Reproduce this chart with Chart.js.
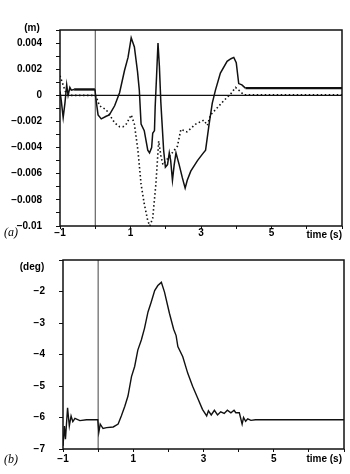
<!DOCTYPE html>
<html>
<head>
<meta charset="utf-8">
<script src="https://cdn.jsdelivr.net/npm/chart.js@4.4.0/dist/chart.umd.min.js"></script>
<style>
  body { margin: 0; background: #fff; width: 350px; height: 474px; position: relative; overflow: hidden; }
  .panel { position: absolute; left: 0; width: 350px; }
  #wrapA { top: 0; height: 244px; }
  #wrapB { top: 244px; height: 230px; }
</style>
</head>
<body>
<div class="panel" id="wrapA"><canvas id="chartA"></canvas></div>
<div class="panel" id="wrapB"><canvas id="chartB"></canvas></div>
<script>
// (a) displacement (m) - solid trace
const aSolidTime = [-1, -0.96, -0.91, -0.86, -0.81, -0.77, -0.72, -0.68, -0.6, -0.3, -0.01, 0.03, 0.08, 0.17, 0.31, 0.4,
  0.55, 0.69, 0.83, 0.93, 1.02, 1.11, 1.2, 1.25, 1.30, 1.39, 1.49, 1.54, 1.60, 1.63, 1.68, 1.70, 1.74, 1.78, 1.82,
  1.86, 1.89, 1.94, 1.99, 2.05, 2.10, 2.14, 2.19, 2.24, 2.29, 2.38, 2.47, 2.55, 2.61, 2.71, 2.90, 3.04, 3.13, 3.23,
  3.32, 3.41, 3.55, 3.74, 3.85, 3.93, 4.0, 4.07, 4.16, 4.26, 7];
const aSolidValue = [0.0003, -0.0005, -0.0017, -0.0006, 0.0008, 0.0, 0.0006, 0.0004, 0.00045, 0.00045, 0.00045, -0.0005,
  -0.0015, -0.0018, -0.0016, -0.0015, -0.0008, 0.0002, 0.0019, 0.0029, 0.0044, 0.0037, 0.0018, 0.0004, -0.0022,
  -0.0027, -0.0042, -0.0044, -0.0040, -0.0029, -0.0027, -0.0009, 0.0015, 0.0040, 0.0022, -0.0005, -0.0019, -0.0042,
  -0.0055, -0.0053, -0.0044, -0.0050, -0.0065, -0.0053, -0.0044, -0.0053, -0.0063, -0.0071, -0.0065, -0.0058,
  -0.0050, -0.0045, -0.0042, -0.0022, -0.0006, 0.0004, 0.0017, 0.0026, 0.0028, 0.0029, 0.0025, 0.0009, 0.0008,
  0.00055, 0.00055];

// (a) dotted trace
const aDotTime = [-1, -0.95, -0.85, -0.75, -0.01, 0.04, 0.12, 0.31, 0.55, 0.69, 0.79, 0.88, 1.02, 1.11, 1.21, 1.30,
  1.39, 1.49, 1.55, 1.63, 1.72, 1.80, 1.86, 1.92, 2.0, 2.1, 2.24, 2.33, 2.43, 2.6, 2.85, 3.08, 3.18, 3.27, 3.41,
  3.65, 3.84, 3.98, 4.07, 4.21, 7];
const aDotValue = [0.0015, 0.0011, 0.0003, 0.0, 0.0, -0.0002, -0.0008, -0.0011, -0.0021, -0.0024, -0.0024, -0.0022,
  -0.0015, -0.0022, -0.0042, -0.0068, -0.0083, -0.0096, -0.0100, -0.0094, -0.0068, -0.0035, -0.0046, -0.0053,
  -0.0050, -0.0047, -0.0042, -0.0039, -0.0026, -0.0028, -0.0022, -0.0019, -0.0023, -0.0015, -0.0011, -0.0004,
  0.0001, 0.0006, 0.0004, 0.00005, 0.00005];

// (b) angle (deg)
const bTime = [-1, -0.96, -0.93, -0.87, -0.82, -0.77, -0.72, -0.66, -0.52, -0.33, -0.01, 0.02, 0.06, 0.14, 0.24, 0.43,
  0.57, 0.66, 0.76, 0.85, 0.95, 1.04, 1.13, 1.23, 1.32, 1.42, 1.51, 1.61, 1.70, 1.80, 1.89, 2.03, 2.15, 2.22, 2.27,
  2.41, 2.55, 2.69, 2.83, 2.97, 3.09, 3.14, 3.22, 3.31, 3.40, 3.49, 3.59, 3.68, 3.78, 3.87, 3.92, 4.02, 4.10, 4.14,
  4.20, 4.26, 4.35, 4.48, 7];
const bAngle = [-6.9, -6.27, -6.69, -5.69, -6.27, -5.95, -6.13, -6.03, -6.1, -6.07, -6.07, -6.47, -6.21, -6.35, -6.32,
  -6.3, -6.21, -5.95, -5.64, -5.32, -4.7, -4.38, -3.86, -3.54, -3.17, -2.65, -2.34, -1.97, -1.81, -1.71, -2.02,
  -2.69, -3.2, -3.4, -3.75, -4.07, -4.59, -5.01, -5.37, -5.74, -5.95, -5.79, -5.92, -5.77, -5.92, -5.82, -5.87,
  -5.77, -5.85, -5.77, -5.85, -5.85, -6.21, -6.0, -6.12, -6.04, -6.09, -6.07, -6.07];

const timeLabels = [-1, 1, 3, 5];
const markerTime = 0;
// settled stretches of the solid trace look heavier (beaded) in the original
const settledBefore = -0.6;
const settledAfter = 4.26;

const pts = (xs, ys) => xs.map((x, i) => ({ x, y: ys[i] }));

Chart.defaults.font.family = "'Liberation Sans', Arial, sans-serif";
Chart.defaults.font.size = 10;
Chart.defaults.font.weight = 'bold';
Chart.defaults.color = '#000';

// frame, t=0 marker, zero line and the loose labels
const framePlugin = {
  id: 'frame',
  beforeDatasetsDraw(chart, args, opts) {
    const { ctx, chartArea: a, scales } = chart;
    ctx.save();
    ctx.strokeStyle = '#444';
    ctx.lineWidth = 1;
    const mx = scales.x.getPixelForValue(markerTime);
    ctx.beginPath();
    ctx.moveTo(mx, a.top);
    ctx.lineTo(mx, a.bottom);
    ctx.stroke();
    if (opts.zeroLine) {
      const zy = scales.y.getPixelForValue(0);
      ctx.strokeStyle = '#111';
      ctx.lineWidth = 1.2;
      ctx.beginPath();
      ctx.moveTo(a.left, zy);
      ctx.lineTo(a.right, zy);
      ctx.stroke();
    }
    ctx.restore();
  },
  afterDraw(chart, args, opts) {
    const { ctx, chartArea: a } = chart;
    ctx.save();
    ctx.strokeStyle = '#111';
    ctx.lineWidth = 1.5;
    ctx.strokeRect(a.left, a.top, a.right - a.left, a.bottom - a.top);
    ctx.fillStyle = '#000';
    ctx.textBaseline = 'middle';
    ctx.font = "bold 10px 'Liberation Sans', Arial, sans-serif";
    ctx.textAlign = 'center';
    ctx.fillText(opts.unit, opts.unitX, opts.unitY);
    ctx.textAlign = 'right';
    ctx.fillText('time (s)', 342, opts.timeY);
    ctx.textAlign = 'left';
    ctx.font = "italic 12px 'Liberation Serif', serif";
    ctx.fillText(opts.tag, 4, opts.tagY);
    ctx.restore();
  }
};

function xScale(tickPad, height) {
  return {
    type: 'linear', min: -1, max: 7,
    grid: { drawOnChartArea: false, drawTicks: true, tickLength: 3, color: '#111' },
    border: { display: false },
    ticks: {
      stepSize: 1, padding: tickPad, maxRotation: 0, autoSkip: false,
      callback: v => timeLabels.includes(Math.round(v)) ? String(Math.round(v)).replace('-', '−') : ''
    },
    afterFit(s) { s.height = height; s.paddingLeft = 0; s.paddingRight = 0; }
  };
}

const settledWidth = ctx => (ctx.p0.parsed.x >= settledAfter || ctx.p1.parsed.x <= -0.01 && ctx.p0.parsed.x >= settledBefore) ? 2.4 : undefined;

new Chart(document.getElementById('chartA'), {
  type: 'line',
  data: {
    datasets: [
      { data: pts(aSolidTime, aSolidValue), borderColor: '#111', borderWidth: 1.5, pointRadius: 0, tension: 0,
        segment: { borderWidth: settledWidth } },
      { data: pts(aDotTime, aDotValue), borderColor: '#111', borderWidth: 1.6, borderDash: [1.5, 2.5], pointRadius: 0, tension: 0 }
    ]
  },
  options: {
    responsive: true, maintainAspectRatio: false, animation: false,
    layout: { padding: { top: 30, right: 8, left: 0, bottom: 0 } },
    plugins: {
      legend: { display: false }, tooltip: { enabled: false },
      frame: { zeroLine: true, unit: '(m)', unitX: 32, unitY: 28, timeY: 235, tag: '(a)', tagY: 233 }
    },
    scales: {
      x: xScale(-2, 18),
      y: {
        min: -0.01, max: 0.005,
        grid: { drawOnChartArea: false, drawTicks: true, tickLength: 4, color: '#111' },
        border: { display: false },
        ticks: {
          stepSize: 0.001, padding: 14, autoSkip: false,
          callback: v => {
            const k = Math.round(v * 1000);
            if (k % 2 !== 0 || k === 5) return '';
            if (k === 0) return '0';
            if (k === -10) return '−0.01';
            return (k < 0 ? '−' : '') + '0.00' + Math.abs(k);
          }
        },
        afterFit(s) { s.width = 60; s.paddingTop = 0; s.paddingBottom = 0; }
      }
    }
  },
  plugins: [framePlugin]
});

new Chart(document.getElementById('chartB'), {
  type: 'line',
  data: {
    datasets: [
      { data: pts(bTime, bAngle), borderColor: '#111', borderWidth: 1.4, pointRadius: 0, tension: 0 }
    ]
  },
  options: {
    responsive: true, maintainAspectRatio: false, animation: false,
    layout: { padding: { top: 16, right: 6, left: 0, bottom: 0 } },
    plugins: {
      legend: { display: false }, tooltip: { enabled: false },
      frame: { zeroLine: false, unit: '(deg)', unitX: 32, unitY: 23, timeY: 215, tag: '(b)', tagY: 216 }
    },
    scales: {
      x: xScale(1, 25),
      y: {
        min: -7, max: -1,
        grid: { drawOnChartArea: false, drawTicks: true, tickLength: 4, color: '#111' },
        border: { display: false },
        ticks: {
          stepSize: 1, padding: 14, autoSkip: false,
          callback: v => Math.round(v) === -1 ? '' : String(Math.round(v)).replace('-', '−')
        },
        afterFit(s) { s.width = 63; s.paddingTop = 0; s.paddingBottom = 0; }
      }
    }
  },
  plugins: [framePlugin]
});
</script>
</body>
</html>
